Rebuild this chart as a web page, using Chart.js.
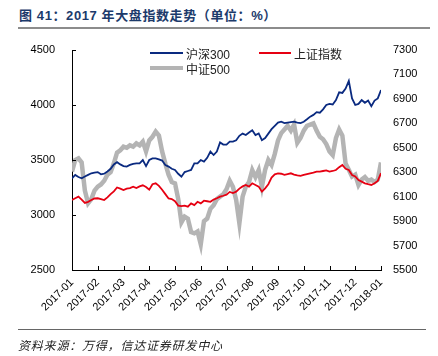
<!DOCTYPE html>
<html><head><meta charset="utf-8">
<script src="https://cdn.jsdelivr.net/npm/chart.js@4/dist/chart.umd.min.js"></script>
<style>
html,body{margin:0;padding:0;background:#fff;}
#wrap{position:relative;width:438px;height:356px;overflow:hidden;}
#c{position:absolute;left:0;top:0;}
.t{position:absolute;white-space:nowrap;}
#title{left:19px;top:5px;font:bold 13px "Liberation Sans","Noto Sans CJK SC",sans-serif;color:#1c3a6b;letter-spacing:0.6px;}
#line1{position:absolute;left:18px;top:27px;width:412px;height:2px;background:#8c8c8c;}
#line2{position:absolute;left:18px;top:329px;width:408px;height:1px;background:#666;}
#src{left:18px;top:336px;font:italic 12px "Noto Sans CJK SC",sans-serif;color:#222;letter-spacing:0.8px;}
.lg{position:absolute;font:12px "Liberation Sans","Noto Sans CJK SC",sans-serif;color:#222;}
.sw{position:absolute;}
</style></head>
<body><div id="wrap">
<div id="title" class="t">图 41：2017 年大盘指数走势（单位：%）</div>
<div id="line1"></div>
<canvas id="c" width="438" height="356"></canvas>
<div class="sw" style="left:150px;top:52px;width:33px;height:2px;background:#0a2a80"></div>
<div class="lg" style="left:186px;top:45px;">沪深300</div>
<div class="sw" style="left:259px;top:52px;width:32px;height:2px;background:#e60012"></div>
<div class="lg" style="left:294px;top:45px;">上证指数</div>
<div class="sw" style="left:150px;top:66px;width:33px;height:4px;background:#b4b4b4"></div>
<div class="lg" style="left:186px;top:60px;">中证500</div>
<div id="line2"></div>
<div id="src" class="t">资料来源：万得，信达证券研发中心</div>
</div>
<script>
const months = ["2017-01","2017-02","2017-03","2017-04","2017-05","2017-06","2017-07","2017-08","2017-09","2017-10","2017-11","2017-12","2018-01"];
const samplesPerMonth = 8;
const hs300 = [3333,3364,3345,3333,3350,3365,3379,3385,3390,3370,3375,3395,3420,3460,3480,3460,
3445,3440,3455,3465,3470,3470,3500,3445,3500,3515,3515,3505,3495,3455,3440,3420,
3409,3375,3348,3390,3400,3410,3470,3470,3500,3485,3520,3576,3545,3576,3660,3640,
3640,3667,3667,3680,3720,3740,3727,3750,3770,3727,3742,3680,3700,3740,3780,3810,
3840,3848,3835,3840,3845,3848,3840,3835,3848,3870,3894,3910,3935,3930,3960,4000,
4010,4005,4045,4115,4110,4150,4220,4060,4000,4010,4045,4020,4040,3990,4040,4060,4136];
const sh = [3136,3152,3167,3140,3110,3120,3136,3150,3152,3145,3136,3160,3190,3215,3250,3240,
3227,3240,3245,3258,3245,3260,3270,3255,3230,3280,3288,3265,3230,3190,3150,3145,
3125,3085,3080,3085,3076,3106,3090,3120,3106,3130,3125,3120,3140,3152,3167,3175,
3185,3210,3200,3212,3240,3260,3273,3258,3288,3273,3258,3212,3242,3280,3340,3370,
3379,3375,3365,3372,3379,3368,3360,3355,3364,3372,3379,3385,3394,3394,3400,3405,
3394,3400,3409,3435,3455,3420,3409,3364,3350,3318,3303,3288,3280,3273,3288,3310,3380];
const zz500 = [6305,6400,6414,6380,6150,6046,6080,6150,6182,6200,6230,6280,6300,6373,6460,6480,
6509,6500,6520,6510,6536,6520,6550,6470,6560,6590,6632,6600,6470,6370,6280,6220,
6209,6080,5890,5936,5920,5810,5800,5815,5710,5900,5920,6000,6030,6080,6100,6120,
6160,6230,6180,6073,5882,6100,6182,6220,6318,6260,6318,6182,6320,6400,6360,6450,
6560,6620,6650,6680,6640,6690,6540,6580,6640,6680,6690,6700,6640,6590,6570,6530,
6470,6440,6580,6650,6600,6370,6320,6264,6280,6196,6240,6260,6230,6240,6220,6240,6380];
const leftTicks = [2500,3000,3500,4000,4500];
const rightTicks = [5500,5700,5900,6100,6300,6500,6700,6900,7100,7300];

const toPts = arr => arr.map((v,i)=>({x:i/samplesPerMonth,y:v}));

const inwardTicks = {
  id:'inwardTicks',
  afterDraw(chart){
    const ctx = chart.ctx, a = chart.chartArea;
    const xs = chart.scales.x, yl = chart.scales.y;
    ctx.save();
    ctx.strokeStyle='#000'; ctx.lineWidth=1;
    ctx.beginPath();
    xs.ticks.forEach(t=>{const px=Math.round(xs.getPixelForValue(t.value))+0.5; ctx.moveTo(px,a.bottom); ctx.lineTo(px,a.bottom-4);});
    yl.ticks.forEach(t=>{const py=Math.round(yl.getPixelForValue(t.value))+0.5; ctx.moveTo(a.left,py); ctx.lineTo(a.left+4,py);});
    ctx.stroke();
    ctx.restore();
  }
};
const fnt = {family:'"Liberation Sans", Arial, sans-serif',size:11};

new Chart(document.getElementById('c'),{
  type:'line',
  data:{datasets:[
    {label:'中证500',data:toPts(zz500),yAxisID:'y2',borderColor:'#b4b4b4',borderWidth:4.5,pointRadius:0,tension:0,order:3},
    {label:'上证指数',data:toPts(sh),yAxisID:'y',borderColor:'#e60012',borderWidth:1.8,pointRadius:0,tension:0,order:2},
    {label:'沪深300',data:toPts(hs300),yAxisID:'y',borderColor:'#0a2a80',borderWidth:1.8,pointRadius:0,tension:0,order:1}
  ]},
  options:{
    responsive:false,animation:false,
    layout:{padding:{top:50,left:0,right:0,bottom:0}},
    plugins:{legend:{display:false},tooltip:{enabled:false}},
    scales:{
      x:{type:'linear',min:0,max:months.length-1,
        afterBuildTicks(s){s.ticks=months.map((m,i)=>({value:i}));},
        afterFit(s){s.height=86;},
        grid:{display:false,drawTicks:false},
        border:{display:true,color:'#000',width:1},
        ticks:{autoSkip:false,maxRotation:45,minRotation:45,padding:6,color:'#000',font:fnt,
          callback:(v)=>months[v]}
      },
      y:{position:'left',min:2500,max:4500,
        afterBuildTicks(s){s.ticks=leftTicks.map(v=>({value:v}));},
        afterFit(s){s.width=72;},
        grid:{display:false,drawTicks:false},
        border:{display:true,color:'#000',width:1},
        ticks:{padding:17,color:'#000',font:fnt,callback:(v)=>String(v)}
      },
      y2:{position:'right',min:5500,max:7300,
        afterBuildTicks(s){s.ticks=rightTicks.map(v=>({value:v}));},
        afterFit(s){s.width=57;},
        grid:{display:false,drawTicks:false},
        border:{display:false},
        ticks:{padding:12,color:'#000',font:fnt,callback:(v)=>String(v)}
      }
    }
  },
  plugins:[inwardTicks]
});
</script>
</body></html>
